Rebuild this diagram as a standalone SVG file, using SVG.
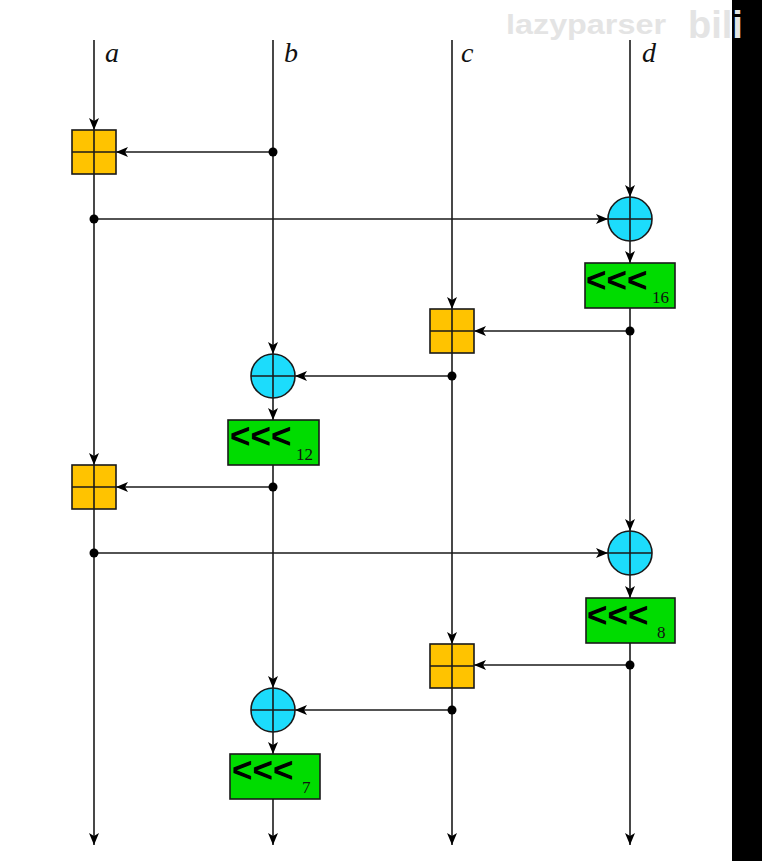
<svg xmlns="http://www.w3.org/2000/svg" width="762" height="861" viewBox="0 0 762 861">
<style>
.ln{stroke:#1a1a1a;stroke-width:1.6;fill:none}
.arr{marker-end:url(#ah)}
.add{fill:#ffc300;stroke:#1a1a1a;stroke-width:1.6}
.xor{fill:#1cdcfc;stroke:#1a1a1a;stroke-width:1.6}
.rot{fill:#00dc00;stroke:#1a1a1a;stroke-width:1.6}
.dot{fill:#000}
.lbl{font-family:"Liberation Serif",serif;font-style:italic;font-size:28px;fill:#111}
.chev{font-family:"Liberation Sans",Arial,sans-serif;font-weight:bold;font-size:35px;fill:#000}
.sub{font-family:"Liberation Serif",serif;font-size:17px;fill:#111}
.wm{font-family:"Liberation Sans",Arial,sans-serif;font-weight:bold;fill:#e4e4e4}
</style>
<defs>
<marker id="ah" markerUnits="userSpaceOnUse" markerWidth="13" markerHeight="10" refX="12" refY="5" orient="auto">
<path d="M0,0 L12,5 L0,10 L3,5 z" fill="#000"/>
</marker>
</defs>
<rect width="762" height="861" fill="#fff"/>
<rect x="732" y="0" width="30" height="861" fill="#000"/>
<text class="wm" x="506" y="34" font-size="27" textLength="160" lengthAdjust="spacingAndGlyphs">lazyparser</text>
<text class="wm" x="688" y="38" font-size="38" fill="#dcdcdc">bili</text>
<g id="labels">
<text class="lbl" x="105" y="62">a</text>
<text class="lbl" x="284" y="62">b</text>
<text class="lbl" x="461" y="62">c</text>
<text class="lbl" x="642" y="62">d</text>
</g>
<g id="connectors">
<line class="ln arr" x1="94" y1="40" x2="94" y2="130"/>
<line class="ln arr" x1="94" y1="174" x2="94" y2="465"/>
<line class="ln arr" x1="94" y1="509" x2="94" y2="845"/>
<line class="ln arr" x1="273" y1="40" x2="273" y2="354"/>
<line class="ln arr" x1="273" y1="398" x2="273" y2="420"/>
<line class="ln arr" x1="273" y1="465" x2="273" y2="688"/>
<line class="ln arr" x1="273" y1="732" x2="273" y2="754"/>
<line class="ln arr" x1="273" y1="799" x2="273" y2="845"/>
<line class="ln arr" x1="452" y1="40" x2="452" y2="309"/>
<line class="ln arr" x1="452" y1="353" x2="452" y2="644"/>
<line class="ln arr" x1="452" y1="688" x2="452" y2="845"/>
<line class="ln arr" x1="630" y1="40" x2="630" y2="197"/>
<line class="ln arr" x1="630" y1="241" x2="630" y2="263"/>
<line class="ln arr" x1="630" y1="308" x2="630" y2="531"/>
<line class="ln arr" x1="630" y1="575" x2="630" y2="598"/>
<line class="ln arr" x1="630" y1="643" x2="630" y2="845"/>
<line class="ln arr" x1="273" y1="152" x2="116" y2="152"/>
<line class="ln arr" x1="94" y1="219" x2="608" y2="219"/>
<line class="ln arr" x1="630" y1="331" x2="474" y2="331"/>
<line class="ln arr" x1="452" y1="376" x2="295" y2="376"/>
<line class="ln arr" x1="273" y1="487" x2="116" y2="487"/>
<line class="ln arr" x1="94" y1="553" x2="608" y2="553"/>
<line class="ln arr" x1="630" y1="665" x2="474" y2="665"/>
<line class="ln arr" x1="452" y1="710" x2="295" y2="710"/>
<circle class="dot" cx="273" cy="152" r="4.5"/>
<circle class="dot" cx="94" cy="219" r="4.5"/>
<circle class="dot" cx="630" cy="331" r="4.5"/>
<circle class="dot" cx="452" cy="376" r="4.5"/>
<circle class="dot" cx="273" cy="487" r="4.5"/>
<circle class="dot" cx="94" cy="553" r="4.5"/>
<circle class="dot" cx="630" cy="665" r="4.5"/>
<circle class="dot" cx="452" cy="710" r="4.5"/>
</g>
<g id="add1"><rect class="add" x="72" y="130" width="44" height="44"/><path class="ln" d="M94,130V174M72,152H116"/></g>
<g id="xor1"><circle class="xor" cx="630" cy="219" r="22"/><path class="ln" d="M630,197V241M608,219H652"/></g>
<g id="rot16"><rect class="rot" x="585" y="263" width="90" height="45"/><text class="chev" x="586" y="292">&lt;&lt;&lt;</text><text class="sub" x="652" y="303">16</text></g>
<g id="add2"><rect class="add" x="430" y="309" width="44" height="44"/><path class="ln" d="M452,309V353M430,331H474"/></g>
<g id="xor2"><circle class="xor" cx="273" cy="376" r="22"/><path class="ln" d="M273,354V398M251,376H295"/></g>
<g id="rot12"><rect class="rot" x="228" y="420" width="91" height="45"/><text class="chev" x="230" y="448">&lt;&lt;&lt;</text><text class="sub" x="296" y="460">12</text></g>
<g id="add3"><rect class="add" x="72" y="465" width="44" height="44"/><path class="ln" d="M94,465V509M72,487H116"/></g>
<g id="xor3"><circle class="xor" cx="630" cy="553" r="22"/><path class="ln" d="M630,531V575M608,553H652"/></g>
<g id="rot8"><rect class="rot" x="586" y="598" width="89" height="45"/><text class="chev" x="587" y="627">&lt;&lt;&lt;</text><text class="sub" x="657" y="638">8</text></g>
<g id="add4"><rect class="add" x="430" y="644" width="44" height="44"/><path class="ln" d="M452,644V688M430,666H474"/></g>
<g id="xor4"><circle class="xor" cx="273" cy="710" r="22"/><path class="ln" d="M273,688V732M251,710H295"/></g>
<g id="rot7"><rect class="rot" x="230" y="754" width="90" height="45"/><text class="chev" x="232" y="782">&lt;&lt;&lt;</text><text class="sub" x="302" y="793">7</text></g>
</svg>
